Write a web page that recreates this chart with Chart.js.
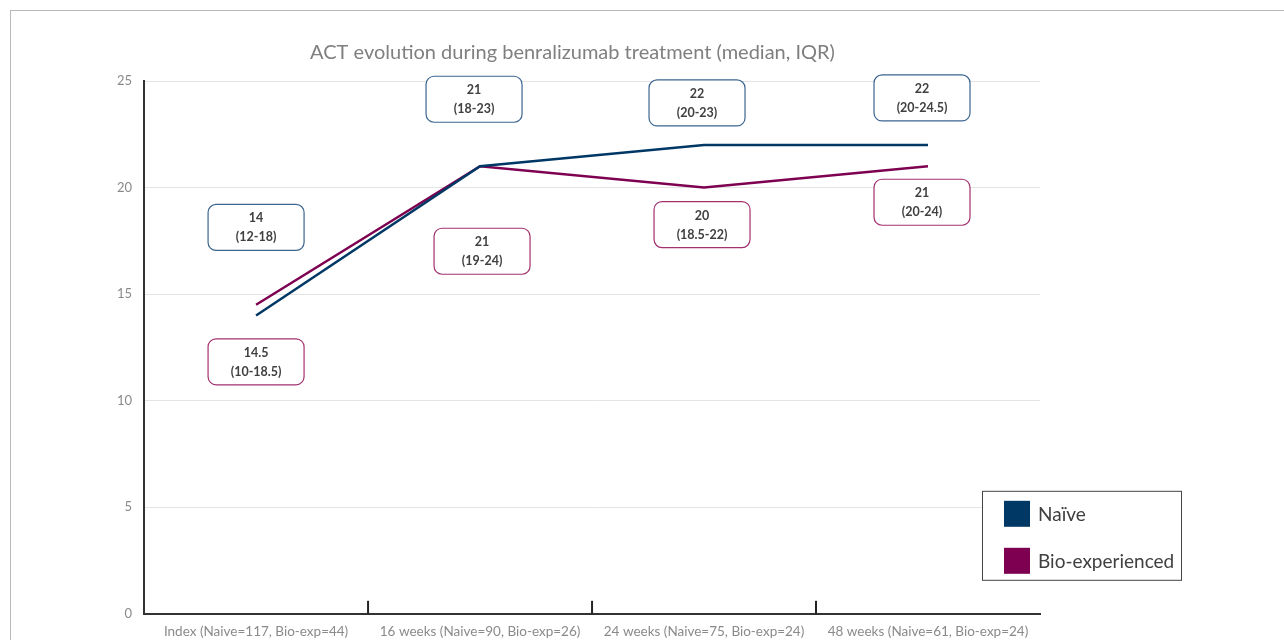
<!DOCTYPE html>
<html>
<head>
<meta charset="utf-8">
<script src="https://cdn.jsdelivr.net/npm/chart.js@4"></script>
<style>
  body { margin: 0; background: #fff; }
  #wrap { position: relative; width: 1284px; height: 640px; overflow: hidden; }
  #frame { position: absolute; left: 10px; top: 10px; width: 1400px; height: 800px; border: 1px solid #b8b8b8; pointer-events: none; }
  canvas { position: absolute; left: 0; top: 0; }
</style>
</head>
<body>
<div id="wrap">
  <canvas id="chart" width="1284" height="640"></canvas>
  <div id="frame"></div>
</div>
<script>
// data
var categories = ['Index (Naive=117, Bio-exp=44)', '16 weeks (Naive=90, Bio-exp=26)', '24 weeks (Naive=75, Bio-exp=24)', '48 weeks (Naive=61, Bio-exp=24)'];
var naiveMedian = [14, 21, 22, 22];
var naiveIQR = ['12-18', '18-23', '20-23', '20-24.5'];
var bioMedian = [14.5, 21, 20, 21];
var bioIQR = ['10-18.5', '19-24', '18.5-22', '20-24'];
var yTicks = [0, 5, 10, 15, 20, 25];

// where the label boxes sit, relative to their point (px)
var naiveBoxShift = [[0, -88], [-6, -67], [-7, -42], [-6, -47]];
var bioBoxShift = [[0, 57], [2, 85], [-2, 37], [-6, 36]];

var NAVY = '#003865';
var MAROON = '#7e0050';
var FONT = 'Lato, "Open Sans", sans-serif';

function roundRect(ctx, x, y, w, h, r) {
    ctx.beginPath();
    ctx.moveTo(x + r, y);
    ctx.arcTo(x + w, y, x + w, y + h, r);
    ctx.arcTo(x + w, y + h, x, y + h, r);
    ctx.arcTo(x, y + h, x, y, r);
    ctx.arcTo(x, y, x + w, y, r);
    ctx.closePath();
}

var extras = {
    id: 'extras',
    afterDraw: function (chart) {
        var ctx = chart.ctx;
        var xs = chart.scales.x, ys = chart.scales.y;
        var area = chart.chartArea;
        ctx.save();

        // inward tick marks between categories
        ctx.strokeStyle = '#222';
        ctx.lineWidth = 2;
        for (var i = 1; i < categories.length; i++) {
            var tx = (xs.getPixelForValue(i - 1) + xs.getPixelForValue(i)) / 2;
            ctx.beginPath();
            ctx.moveTo(tx, area.bottom);
            ctx.lineTo(tx, area.bottom - 13);
            ctx.stroke();
        }

        // value boxes
        function boxes(values, iqr, shift, border) {
            for (var i = 0; i < values.length; i++) {
                var cx = xs.getPixelForValue(i) + shift[i][0];
                var cy = ys.getPixelForValue(values[i]) + shift[i][1];
                var w = 96, h = 46;
                roundRect(ctx, cx - w / 2, cy - h / 2, w, h, 8);
                ctx.fillStyle = '#fff';
                ctx.fill();
                ctx.lineWidth = 1.2;
                ctx.strokeStyle = border;
                ctx.stroke();
                ctx.fillStyle = '#404040';
                ctx.font = 'bold 12.5px ' + FONT;
                ctx.textAlign = 'center';
                ctx.textBaseline = 'middle';
                ctx.fillText(String(values[i]), cx, cy - 9);
                ctx.fillText('(' + iqr[i] + ')', cx, cy + 10);
            }
        }
        boxes(naiveMedian, naiveIQR, naiveBoxShift, '#3b6590');
        boxes(bioMedian, bioIQR, bioBoxShift, '#a3306f');

        // legend box
        var lx = area.right - 58, ly = area.bottom - 123;
        ctx.fillStyle = '#fff';
        ctx.fillRect(lx, ly, 199, 89);
        ctx.strokeStyle = '#444';
        ctx.lineWidth = 1;
        ctx.strokeRect(lx + 0.5, ly + 0.5, 199, 89);
        var items = [['Naïve', NAVY], ['Bio-experienced', MAROON]];
        ctx.font = '19px ' + FONT;
        ctx.textAlign = 'left';
        ctx.textBaseline = 'middle';
        items.forEach(function (it, k) {
            ctx.fillStyle = it[1];
            ctx.fillRect(lx + 22, ly + 10 + k * 47, 26, 26);
            ctx.fillStyle = '#404040';
            ctx.fillText(it[0], lx + 56, ly + 24 + k * 47);
        });
        ctx.restore();
    }
};

new Chart(document.getElementById('chart'), {
    type: 'line',
    data: {
        labels: categories,
        datasets: [{
            label: 'Naïve',
            data: naiveMedian,
            borderColor: NAVY,
            borderWidth: 2.5,
            pointRadius: 0,
            tension: 0
        }, {
            label: 'Bio-experienced',
            data: bioMedian,
            borderColor: MAROON,
            borderWidth: 2.5,
            pointRadius: 0,
            tension: 0
        }]
    },
    options: {
        responsive: false,
        animation: false,
        layout: {
            padding: { left: 105, right: 244, top: 22, bottom: -10 }
        },
        plugins: {
            legend: { display: false },
            tooltip: { enabled: false },
            title: {
                display: true,
                text: 'ACT evolution during benralizumab treatment (median, IQR)',
                color: '#7f7f7f',
                font: { family: FONT, size: 20, weight: 'normal' },
                padding: { top: 19, bottom: 16 }
            }
        },
        scales: {
            x: {
                offset: true,
                grid: { display: false, drawTicks: false },
                border: { display: true, color: '#333', width: 2 },
                ticks: {
                    color: '#8a8a8a',
                    font: { family: FONT, size: 13.5 },
                    padding: 10,
                    maxRotation: 0
                }
            },
            y: {
                min: 0,
                max: 25,
                afterBuildTicks: function (scale) {
                    scale.ticks = yTicks.map(function (v) { return { value: v }; });
                },
                grid: { color: '#e4e4e4', drawTicks: false },
                border: { display: true, color: '#333', width: 2 },
                ticks: {
                    color: '#8a8a8a',
                    font: { family: FONT, size: 13 },
                    padding: 12
                }
            }
        }
    },
    plugins: [extras]
});
</script>
</body>
</html>
